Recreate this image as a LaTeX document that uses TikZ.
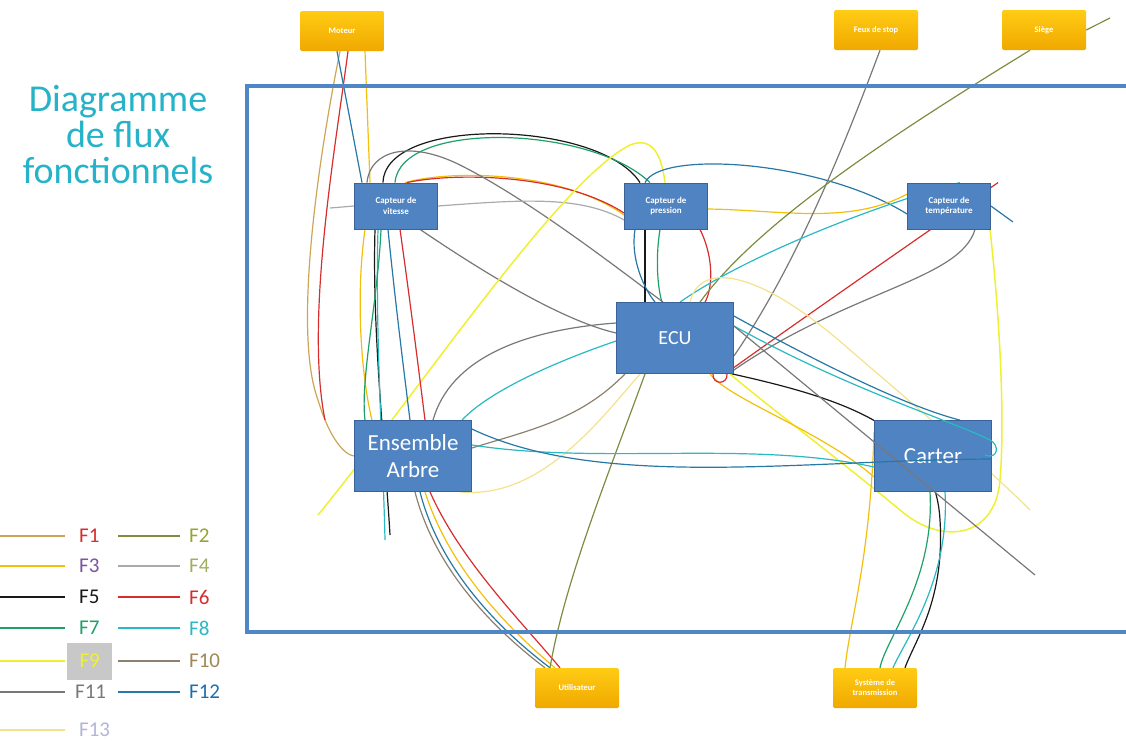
\documentclass[tikz,border=0pt]{standalone}
\usepackage{fontspec}
\setmainfont{Carlito}
\usetikzlibrary{backgrounds}

\definecolor{cadre}{RGB}{79,134,198}
\definecolor{blocBleu}{RGB}{79,131,194}
\definecolor{blocBord}{RGB}{58,98,150}
\definecolor{titre}{RGB}{38,178,200}
\definecolor{fluxA}{RGB}{205,165,85}
\definecolor{fluxB}{RGB}{125,140,65}
\definecolor{fluxC}{RGB}{242,192,10}
\definecolor{fluxD}{RGB}{170,170,170}
\definecolor{fluxE}{RGB}{25,25,25}
\definecolor{fluxF}{RGB}{215,45,45}
\definecolor{fluxG}{RGB}{30,160,105}
\definecolor{fluxH}{RGB}{40,185,195}
\definecolor{fluxI}{RGB}{240,240,50}
\definecolor{fluxJ}{RGB}{140,128,110}
\definecolor{fluxK}{RGB}{120,120,120}
\definecolor{fluxL}{RGB}{40,120,165}
\definecolor{fluxM}{RGB}{245,225,140}

\begin{document}
\begin{tikzpicture}[x=1pt, y=-1pt,
    bloc/.style={draw=blocBord, fill=blocBleu, text=white, line width=0.8pt, align=center, inner sep=1pt},
    capteur/.style={bloc, minimum width=83pt, minimum height=46pt, font=\fontsize{9}{10.5}\selectfont\bfseries},
    gros/.style={bloc, minimum width=117pt, minimum height=71pt, font=\fontsize{23}{27}\selectfont},
    externe/.style={top color={rgb,255:red,255;green,204;blue,20}, bottom color={rgb,255:red,240;green,168;blue,0}, text=white, align=center, minimum width=84pt, minimum height=40pt, rounded corners=1.5pt, font=\fontsize{8.5}{10}\selectfont\bfseries, inner sep=1pt},
    fa/.style={draw=fluxA, line width=1.2pt}, fb/.style={draw=fluxB, line width=1.2pt},
    fc/.style={draw=fluxC, line width=1.2pt}, fd/.style={draw=fluxD, line width=1.2pt},
    fe/.style={draw=fluxE, line width=1.2pt}, ff/.style={draw=fluxF, line width=1.2pt},
    fg/.style={draw=fluxG, line width=1.2pt}, fh/.style={draw=fluxH, line width=1.2pt},
    fi/.style={draw=fluxI, line width=1.5pt}, fj/.style={draw=fluxJ, line width=1.2pt},
    fk/.style={draw=fluxK, line width=1.2pt}, fl/.style={draw=fluxL, line width=1.2pt},
    fm/.style={draw=fluxM, line width=1.2pt},
    leg/.style={font=\fontsize{21}{21}\selectfont, anchor=west, inner sep=1pt}]
    \useasboundingbox (0,0) rectangle (1126,742);

    % Titre
    \node[text=titre, align=center, font=\fontsize{38}{36}\selectfont] (titre) at (118,135) {Diagramme\\de flux\\fonctionnels};

    % Cadre du systeme
    \draw[cadre, line width=4pt] (1130,86) -- (247,86) -- (247,632) -- (1130,632);

    % Elements exterieurs
    \node[externe] (moteur) at (342,31) {Moteur};
    \node[externe] (feux) at (876,30) {Feux de stop};
    \node[externe] (siege) at (1044,30) {Siège};
    \node[externe] (util) at (577,688) {Utilisateur};
    \node[externe] (trans) at (875,688) {Système de\\transmission};

    % Composants
    \node[capteur] (vitesse) at (396,206) {Capteur de\\vitesse};
    \node[capteur] (pression) at (666,206) {Capteur de\\pression};
    \node[capteur] (temp) at (949,206) {Capteur de\\température};
    \node[gros, font=\fontsize{20}{24}\selectfont] (ecu) at (675,338) {ECU};
    \node[gros] (arbre) at (413,456) {Ensemble\\Arbre};
    \node[gros] (carter) at (933,456) {Carter};

    \coordinate (gauche) at (330,208);
    \coordinate (finT) at (1013,222);
    \coordinate (hautD) at (1110,18);
    \coordinate (basG) at (318,515);
    \coordinate (finN) at (390,535);
    \coordinate (finH) at (385,540);
    \coordinate (finK) at (1035,575);
    \coordinate (finM) at (1030,510);

    % Flux
    \begin{pgfonlayer}{background}
    \draw[fa] ([xshift=-2pt]moteur.south) .. controls (320,150) and (292,330) .. (318,400) .. controls (330,440) and (345,455) .. (arbre.west);
    \draw[ff] ([xshift=6pt]moteur.south) .. controls (335,150) and (305,320) .. (325,420);
    \draw[fl] ([xshift=-5pt]moteur.south) -- ([xshift=-34pt]vitesse.north);
    \draw[fc] ([xshift=23pt]moteur.south) -- ([xshift=-26pt]vitesse.north);
    \draw[fe] ([xshift=-13pt]vitesse.north) .. controls (385,115) and (600,120) .. ([xshift=-26pt]pression.north);
    \draw[fg] ([xshift=-1pt]vitesse.north) .. controls (400,120) and (590,125) .. ([xshift=-16pt]pression.north);
    \draw[fc] ([xshift=9pt]vitesse.north) .. controls (450,170) and (560,170) .. ([yshift=-9pt]pression.west);
    \draw[ff] ([xshift=11pt]vitesse.north) .. controls (450,173) and (560,172) .. ([yshift=-7pt]pression.west);
    \draw[fk] ([xshift=-29pt]vitesse.north) .. controls (370,150) and (410,140) .. (460,165) .. controls (530,200) and (620,270) .. ([xshift=-12pt]ecu.north);
    \draw[fk] ([xshift=24pt]vitesse.south) .. controls (480,270) and (560,320) .. ([yshift=5pt]ecu.west);
    \draw[fd] (gauche) -- (vitesse.west);
    \draw[fd] (vitesse.east) .. controls (520,200) and (580,195) .. ([yshift=-14pt]pression.west);
    \draw[fi] (basG) .. controls (420,390) and (560,180) .. (630,145) .. controls (655,135) and (662,160) .. ([xshift=-1pt]pression.north);

    % capteur de vitesse - arbre
    \draw[fe] ([xshift=-21pt]vitesse.south) .. controls (372,330) and (385,450) .. (finN);
    \draw[fh] ([xshift=-18pt]vitesse.south) .. controls (375,330) and (383,450) .. (finH);
    \draw[fc] ([xshift=-31pt]vitesse.south) .. controls (355,300) and (362,380) .. ([xshift=-41pt]arbre.north);
    \draw[ff] ([xshift=4pt]vitesse.south) .. controls (410,300) and (420,380) .. ([xshift=12pt]arbre.north);
    \draw[fl] ([xshift=-8pt]vitesse.south) .. controls (395,300) and (405,380) .. ([xshift=-3pt]arbre.north);
    \draw[fg] ([xshift=-15pt]vitesse.south) .. controls (378,300) and (360,380) .. ([xshift=-48pt]arbre.north);

    % arbre - utilisateur
    \draw[ff] ([xshift=17pt]arbre.south) .. controls (460,560) and (520,620) .. ([xshift=-17pt]util.north);
    \draw[fc] ([xshift=12pt]arbre.south) .. controls (450,570) and (510,630) .. ([xshift=-22pt]util.north);
    \draw[fl] ([xshift=7pt]arbre.south) .. controls (440,570) and (500,630) .. ([xshift=-27pt]util.north);
    \draw[fj] ([xshift=2pt]arbre.south) .. controls (435,570) and (495,630) .. ([xshift=-32pt]util.north);
    \draw[fb] ([xshift=-30pt]ecu.south) .. controls (610,470) and (565,580) .. ([xshift=-27pt]util.north);

    % ecu - arbre
    \draw[fh] ([yshift=-3pt]ecu.west) .. controls (560,360) and (490,390) .. ([xshift=49pt]arbre.north);
    \draw[fk] ([yshift=15pt]ecu.west) .. controls (520,330) and (450,360) .. ([xshift=20pt]arbre.north);
    \draw[fj] ([yshift=8pt]arbre.east) .. controls (530,430) and (580,420) .. ([xshift=-50pt]ecu.south);
    \draw[fm] ([xshift=47pt]arbre.south) .. controls (540,500) and (600,420) .. ([xshift=-35pt]ecu.south);

    % pression - ecu
    \draw[fe] ([xshift=-21pt]pression.south) -- ([xshift=-30pt]ecu.north);
    \draw[fl] ([xshift=-31pt]pression.south) .. controls (630,260) and (645,290) .. ([xshift=-20pt]ecu.north);
    \draw[fg] ([xshift=-6pt]pression.south) .. controls (655,260) and (658,290) .. ([xshift=-13pt]ecu.north);
    \draw[ff] ([xshift=34pt]pression.south) .. controls (715,260) and (712,290) .. ([xshift=30pt]ecu.north);
    \draw[fl] ([xshift=-21pt]pression.north) .. controls (660,150) and (820,160) .. ([yshift=-8pt]temp.west);
    \draw[fl] (temp.east) -- (finT);
    \draw[fc] ([yshift=-3pt]pression.east) .. controls (780,210) and (850,225) .. ([yshift=12pt]temp.west);

    % haut droite - ecu
    \draw[fk] ([xshift=4pt]feux.south) .. controls (850,130) and (800,260) .. ([yshift=-18pt]ecu.east);
    \draw[fb] (hautD) -- (siege.east);
    \draw[fb] ([xshift=-14pt]siege.south) .. controls (900,130) and (760,220) .. ([xshift=25pt]ecu.north);
    \draw[fh] ([xshift=11pt]temp.north) .. controls (860,210) and (740,260) .. ([xshift=5pt]ecu.north);
    \draw[ff] ([xshift=49pt]temp.north) .. controls (930,230) and (800,320) .. ([xshift=50pt]ecu.south);
    \draw[fk] ([xshift=26pt]temp.south) .. controls (960,280) and (850,290) .. ([yshift=-32pt]ecu.east);
    \draw[fi] ([xshift=41pt]temp.south) .. controls (1000,320) and (1005,420) .. (1000,480) .. controls (995,540) and (940,545) .. (900,510) .. controls (840,460) and (760,400) .. ([xshift=55pt]ecu.south);
    \draw[fm] ([xshift=15pt]ecu.north) .. controls (700,260) and (760,270) .. (850,350) .. controls (920,410) and (990,470) .. (finM);

    % ecu - carter - transmission
    \draw[fe] ([xshift=57pt]ecu.south) .. controls (850,400) and (935,430) .. (940,520) .. controls (945,600) and (915,640) .. ([xshift=30pt]trans.north);
    \draw[fc] ([xshift=35pt]ecu.south) .. controls (730,400) and (820,430) .. ([yshift=-21pt]carter.west);
    \draw[fc] ([yshift=24pt]carter.west) .. controls (870,560) and (850,620) .. ([xshift=-30pt]trans.north);
    \draw[fg] ([xshift=-3pt]carter.south) .. controls (935,580) and (885,640) .. ([xshift=5pt]trans.north);
    \draw[fh] ([xshift=12pt]carter.south) .. controls (950,580) and (905,640) .. ([xshift=18pt]trans.north);
    \draw[ff] ([xshift=38pt]ecu.south) .. controls (712,385) and (728,385) .. ([xshift=52pt]ecu.south);
    \end{pgfonlayer}

    % flux par-dessus le carter
    \draw[fh] ([yshift=12pt]ecu.east) .. controls (850,390) and (950,420) .. (990,440) .. controls (1000,445) and (998,460) .. (985,455);
    \draw[fl] ([yshift=22pt]ecu.east) .. controls (850,380) and (920,410) .. ([xshift=27pt]carter.north);
    \draw[fk] ([yshift=12pt]ecu.east) -- (finK);
    \draw[fh] ([yshift=11pt]arbre.east) .. controls (600,465) and (750,440) .. ([yshift=-11pt]carter.west);
    \draw[fl] ([yshift=27pt]arbre.east) .. controls (600,490) and (800,460) .. ([yshift=-3pt]carter.east);

    % Legende
    \draw[fa] (0,536) -- (65,536);
    \node[leg, text=fluxF] (lf1) at (78,536) {F1};
    \draw[fb] (118,536) -- (180,536);
    \node[leg, text=fluxB!80!yellow] (lf2) at (188,536) {F2};
    \draw[fc] (0,566) -- (65,566);
    \node[leg, text={rgb,255:red,120;green,85;blue,160}] (lf3) at (78,566) {F3};
    \draw[fd] (118,566) -- (180,566);
    \node[leg, text={rgb,255:red,160;green,175;blue,95}] (lf4) at (188,566) {F4};
    \draw[fe] (0,597) -- (65,597);
    \node[leg, text=fluxE] (lf5) at (78,597) {F5};
    \draw[ff] (118,597) -- (180,597);
    \node[leg, text=fluxF] (lf6) at (188,597) {F6};
    \draw[fg] (0,628) -- (65,628);
    \node[leg, text=fluxG] (lf7) at (78,628) {F7};
    \draw[fh] (118,628) -- (180,628);
    \node[leg, text=fluxH] (lf8) at (188,628) {F8};
    \draw[fi] (0,661) -- (65,661);
    \node[leg, fill={rgb,255:red,200;green,200;blue,200}, text=fluxI, minimum width=45pt, minimum height=37pt, inner sep=4pt] (lf9) at (67,661) {F9};
    \draw[fj] (118,661) -- (180,661);
    \node[leg, text={rgb,255:red,160;green,135;blue,85}] (lf10) at (188,661) {F10};
    \draw[fk] (0,692) -- (65,692);
    \node[leg, text=fluxK] (lf11) at (74,692) {F11};
    \draw[fl] (118,692) -- (180,692);
    \node[leg, text={rgb,255:red,30;green,110;blue,175}] (lf12) at (188,692) {F12};
    \draw[fm] (0,730) -- (65,730);
    \node[leg, text={rgb,255:red,180;green,180;blue,215}] (lf13) at (78,730) {F13};
\end{tikzpicture}
\end{document}
